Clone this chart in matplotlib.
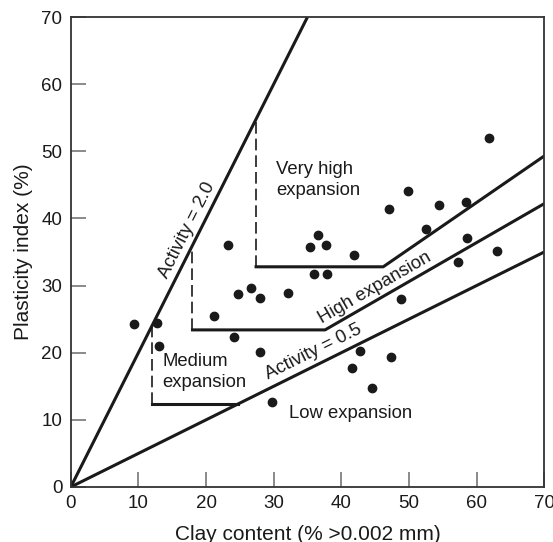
import numpy as np
import matplotlib.pyplot as plt

plt.rcParams['font.family'] = ['Liberation Sans', 'DejaVu Sans']

# data points
clay = [9.4, 12.7, 13.0, 21.2, 23.3, 24.2, 24.8, 26.6, 28.0, 28.0, 29.7, 32.1,
        35.4, 36.0, 36.6, 37.8, 37.9, 41.9, 41.6, 42.8, 44.6, 47.0, 47.4, 48.9,
        49.9, 52.5, 54.5, 57.2, 58.5, 58.6, 61.8, 63.1]
pi = [24.3, 24.4, 21.0, 25.4, 36.1, 22.3, 28.7, 29.7, 28.2, 20.1, 12.6, 28.9,
      35.7, 31.8, 37.5, 36.1, 31.8, 34.6, 17.7, 20.2, 14.7, 41.4, 19.4, 28.0,
      44.1, 38.5, 42.0, 33.5, 42.5, 37.1, 52.0, 35.1]

# boundary lines
act2_x = [0, 35]
act2_y = [0, 70]
act05_x = [0, 70]
act05_y = [0, 35]
high_x = [18, 37.6, 70]
high_y = [23.4, 23.4, 42.2]
vhigh_x = [27.4, 46.2, 70]
vhigh_y = [32.8, 32.8, 49.3]
med_x = [12.0, 24.8]
med_y = [12.4, 12.4]
dash_x = [12.0, 17.9, 27.4]
dash_lo = [12.4, 23.4, 32.8]

col = '#1a1a1a'
fig = plt.figure(figsize=(5.53, 5.42), dpi=100)
ax = fig.add_axes([0.128, 0.1015, 0.856, 0.867])

lw = 2.2
ax.plot(act2_x, act2_y, color=col, lw=lw, solid_capstyle='butt')
ax.plot(act05_x, act05_y, color=col, lw=lw, solid_capstyle='butt')
ax.plot(high_x, high_y, color=col, lw=lw)
ax.plot(vhigh_x, vhigh_y, color=col, lw=lw)
ax.plot(med_x, med_y, color=col, lw=lw)
for x0, y0 in zip(dash_x, dash_lo):
    ax.plot([x0, x0], [y0, 2 * x0], color=col, lw=1.2, ls=(0, (7, 3)))

ax.plot(clay, pi, 'o', color=col, ms=6.0, ls='none')

fs = 13.3
ax.text(30.4, 48.6, 'Very high\nexpansion', fontsize=fs, color=col, va='top', ha='left', linespacing=1.3)
ax.text(13.5, 20.0, 'Medium\nexpansion', fontsize=fs, color=col, va='top', ha='left', linespacing=1.3)
ax.text(32.3, 12.2, 'Low expansion', fontsize=fs, color=col, va='top', ha='left')
ax.text(17.2, 38.3, 'Activity = 2.0', fontsize=fs, color=col, ha='center', va='center',
        rotation=np.degrees(np.arctan(2.0)), transform_rotates_text=True, rotation_mode='anchor')
ax.text(35.9, 20.1, 'Activity = 0.5', fontsize=fs, color=col, ha='center', va='center',
        rotation=np.degrees(np.arctan(0.5)), transform_rotates_text=True, rotation_mode='anchor')
ax.text(45.0, 29.6, 'High expansion', fontsize=fs, color=col, ha='center', va='center',
        rotation=np.degrees(np.arctan(0.58)), transform_rotates_text=True, rotation_mode='anchor')

ax.set_xlim(0, 70)
ax.set_ylim(0, 70)
ax.set_xticks(range(0, 71, 10))
ax.set_yticks(range(0, 71, 10))
ax.tick_params(direction='in', length=11, width=1.2, color='#777777', labelsize=13.5,
               labelcolor=col, pad=6)
for s in ax.spines.values():
    s.set_linewidth(1.3)
    s.set_color('#333333')
ax.set_xlabel('Clay content (% >0.002 mm)', fontsize=15, color=col, labelpad=9)
ax.set_ylabel('Plasticity index (%)', fontsize=15, color=col, labelpad=6)

fig.savefig('out.png', dpi=100)
